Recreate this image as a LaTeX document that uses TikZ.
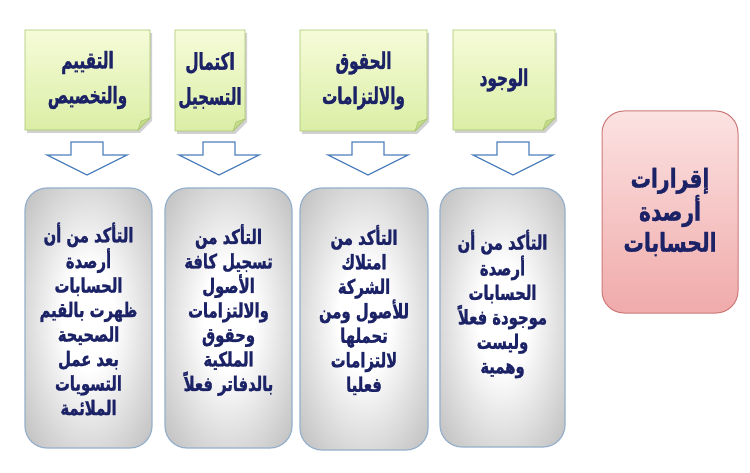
\documentclass[tikz,border=0pt]{standalone}
\usepackage{fontspec}
\newfontfamily\arbox[Script=Arabic,FakeStretch=0.74,BoldFeatures={FakeBold=1.3}]{DejaVu Sans}
\newfontfamily\arnote[Script=Arabic,FakeStretch=0.66,BoldFeatures={FakeBold=1.3}]{DejaVu Sans}
\newfontfamily\arpink[Script=Arabic,FakeStretch=0.78,BoldFeatures={FakeBold=1.3}]{DejaVu Sans}
\TeXXeTstate=1
\newcommand\ar[1]{\beginR #1\endR}
\definecolor{navy}{RGB}{28,34,102}
\definecolor{noteTop}{RGB}{246,251,216}
\definecolor{noteBot}{RGB}{218,238,166}
\definecolor{noteEdge}{RGB}{168,198,108}
\definecolor{noteFold}{RGB}{196,220,140}
\definecolor{arrowBlue}{RGB}{79,129,189}
\definecolor{boxEdge}{RGB}{150,176,204}
\definecolor{pinkTop}{RGB}{252,226,226}
\definecolor{pinkBot}{RGB}{240,170,170}
\definecolor{pinkEdge}{RGB}{205,120,120}
\pgfdeclareradialshading{grayrad}{\pgfpoint{0bp}{0bp}}{color(0bp)=(white); color(10bp)=(white); color(50bp)=(black!40); color(72bp)=(black!48)}
\newcommand\stickynote[6]{%
  \fill[black!18] (#2+2,#3+3) -- (#4+2,#3+3) -- (#4+2,#5-12+3) -- (#4-12+2,#5+3) -- (#2+2,#5+3) -- cycle;
  \shade[top color=noteTop,bottom color=noteBot,draw=noteEdge,line width=0.8pt]
    (#2,#3) -- (#4,#3) -- (#4,#5-12) -- (#4-12,#5) -- (#2,#5) -- cycle;
  \filldraw[fill=noteFold,draw=noteEdge,line width=0.6pt] (#4,#5-12) -- (#4-12,#5) -- (#4-9,#5-9) -- cycle;
  \node[notetext] (#1) at ({(#2+#4)/2},{(#3+#5)/2}) {#6};
}
\newcommand\blockarrow[2]{% name, centre x
  \coordinate (#1) at (#2,175);
  \filldraw[fill=white,draw=arrowBlue,line width=1.3pt,line join=miter]
    (#2-16,142) -- (#2+16,142) -- (#2+16,155) -- (#2+40,155) -- (#1) -- (#2-40,155) -- (#2-16,155) -- cycle;
}
\begin{document}
\begin{tikzpicture}[x=1pt,y=-1pt,
  notetext/.style={text=navy,align=center,font=\arnote\bfseries\fontsize{23}{35}\selectfont},
  boxtext/.style={text=navy,align=center,font=\arbox\bfseries\fontsize{20}{24.5}\selectfont},
  graybox/.style={draw=boxEdge,line width=1.2pt,rounded corners=22pt,shading=grayrad,inner sep=0pt},
  pinkbox/.style={draw=pinkEdge,line width=1pt,rounded corners=22pt,top color=pinkTop,bottom color=pinkBot,inner sep=0pt,
     text=navy,align=center,font=\arpink\bfseries\fontsize{26}{31}\selectfont}]
\useasboundingbox (0,0) rectangle (750,473);
\fill[white] (0,0) rectangle (750,473);
% sticky notes
\stickynote{n1}{25}{30}{150}{130}{\ar{التقييم}\\\ar{والتخصيص}}
\stickynote{n2}{175}{30}{245}{131}{\ar{اكتمال}\\\ar{التسجيل}}
\stickynote{n3}{300}{30}{427}{131}{\ar{الحقوق}\\\ar{والالتزامات}}
\stickynote{n4}{453}{30}{555}{130}{\ar{الوجود}}
% arrows
\blockarrow{a1}{87}
\blockarrow{a2}{219}
\blockarrow{a3}{368}
\blockarrow{a4}{513}
% gray boxes
\node[graybox,minimum width=127pt,minimum height=260pt] (b1) at (88.5,318) {};
\node[graybox,minimum width=127pt,minimum height=260pt] (b2) at (228.5,318) {};
\node[graybox,minimum width=128pt,minimum height=262pt] (b3) at (364,319) {};
\node[graybox,minimum width=125pt,minimum height=259pt] (b4) at (502.5,317.5) {};
\node[boxtext] (t1) at (88.5,319) {\ar{التأكد من أن}\\\ar{أرصدة}\\\ar{الحسابات}\\\ar{ظهرت بالقيم}\\\ar{الصحيحة}\\\ar{بعد عمل}\\\ar{التسويات}\\\ar{الملائمة}};
\node[boxtext] (t2) at (228.5,310) {\ar{التأكد من}\\\ar{تسجيل كافة}\\\ar{الأصول}\\\ar{والالتزامات}\\\ar{وحقوق}\\\ar{الملكية}\\\ar{بالدفاتر فعلاً}};
\node[boxtext] (t3) at (364,310) {\ar{التأكد من}\\\ar{امتلاك}\\\ar{الشركة}\\\ar{للأصول ومن}\\\ar{تحملها}\\\ar{لالتزامات}\\\ar{فعليا}};
\node[boxtext] (t4) at (502.5,304) {\ar{التأكد من أن}\\\ar{أرصدة}\\\ar{الحسابات}\\\ar{موجودة فعلاً}\\\ar{وليست}\\\ar{وهمية}};
% pink box
\node[pinkbox,minimum width=136pt,minimum height=202pt] (p) at (670,212) {\ar{إقرارات}\\\ar{أرصدة}\\\ar{الحسابات}};
\end{tikzpicture}
\end{document}
